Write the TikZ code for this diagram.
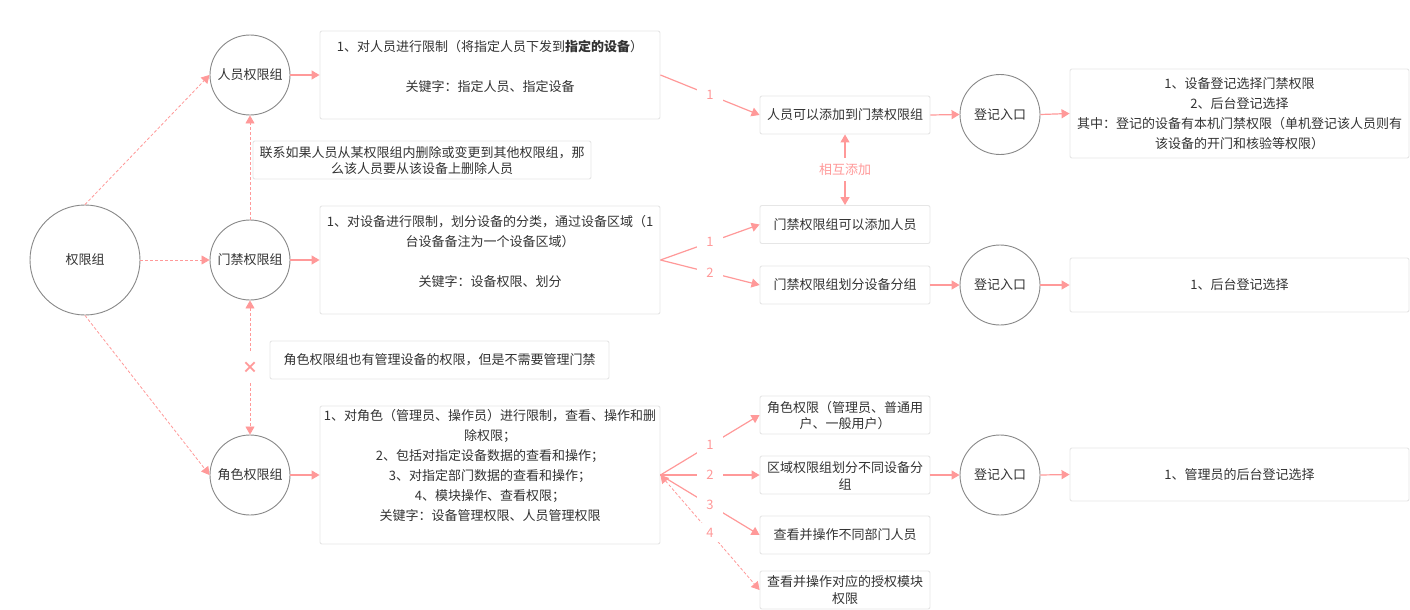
\documentclass[tikz,border=0pt]{standalone}
\usepackage{fontspec}
\setmainfont{Noto Sans CJK SC}
\usetikzlibrary{arrows.meta}
\definecolor{pk}{HTML}{FF9999}
\definecolor{bx}{HTML}{E6E6E6}
\definecolor{cg}{HTML}{888888}
\definecolor{tx}{HTML}{333333}
\tikzset{
  circ/.style={circle, draw=cg, line width=0.9pt, minimum size=#1, inner sep=0pt, text=tx, font=\fontsize{13}{16}\selectfont},
  rbox/.style={draw=bx, line width=0.9pt, rounded corners=2pt, inner sep=0pt, minimum width=#1},
  txt/.style={text=tx, align=center, inner sep=0pt, font=\fontsize{13}{20}\selectfont},
  stxt/.style={text=tx, align=center, inner sep=0pt, font=\fontsize{13}{16.5}\selectfont},
  tipa/.tip={Triangle[length=8pt,width=9pt]},
  arr/.style={draw=pk, line width=1.2pt, -tipa},
  darr/.style={draw=pk, line width=0.8pt, dash pattern=on 3pt off 2pt, -tipa},
  ddarr/.style={draw=pk, line width=0.8pt, dash pattern=on 3pt off 2pt, tipa-tipa},
  sdarr/.style={draw=pk, line width=1.2pt, tipa-tipa},
  lbl/.style={fill=white, text=pk, inner xsep=9pt, inner ysep=5pt, font=\fontsize{13}{15}\selectfont},
}
\begin{document}
\begin{tikzpicture}[x=1pt,y=-1pt]
\fill[white] (0,0) rectangle (1410,610);
\useasboundingbox (0,0) rectangle (1410,610);

% circles
\node[circ=110pt] (qx) at (85,260) {权限组};
\node[circ=80pt] (ry) at (250,75) {人员权限组};
\node[circ=80pt] (mj) at (250,260) {门禁权限组};
\node[circ=80pt] (js) at (250,475) {角色权限组};

% main boxes
\node[rbox=340pt, minimum height=88pt] (b1) at (490,75) {};
\node[txt] (t1) at (490,66) {1、对人员进行限制（将指定人员下发到{\bfseries 指定的设备}）\\ \\关键字：指定人员、指定设备};
\node[rbox=340pt, minimum height=108pt] (b2) at (490,260) {};
\node[txt] (t2) at (490,251) {1、对设备进行限制，划分设备的分类，通过设备区域（1\\台设备备注为一个设备区域）\\ \\关键字：设备权限、划分};
\node[rbox=340pt, minimum height=138pt] (b3) at (490,475) {};
\node[txt] (t3) at (490,465.5) {1、对角色（管理员、操作员）进行限制，查看、操作和删\\除权限；\\2、包括对指定设备数据的查看和操作；\\3、对指定部门数据的查看和操作；\\4、模块操作、查看权限；\\关键字：设备管理权限、人员管理权限};

% notes
\node[rbox=338pt, minimum height=38pt] (n1) at (422,160) {};
\node[stxt] (tn1) at (422,160.5) {联系如果人员从某权限组内删除或变更到其他权限组，那\\么该人员要从该设备上删除人员};
\node[rbox=339pt, minimum height=38pt] (n2) at (439.5,360) {};
\node[stxt] (tn2) at (439.5,360) {角色权限组也有管理设备的权限，但是不需要管理门禁};

% right small boxes
\node[rbox=170pt, minimum height=38pt] (r1) at (845,115) {};
\node[stxt] (tr1) at (845,115) {人员可以添加到门禁权限组};
\node[rbox=170pt, minimum height=38pt] (r2) at (845,224.5) {};
\node[stxt] (tr2) at (845,224.5) {门禁权限组可以添加人员};
\node[rbox=170pt, minimum height=38pt] (r3) at (845,285) {};
\node[stxt] (tr3) at (845,285) {门禁权限组划分设备分组};
\node[rbox=170pt, minimum height=38pt] (r4) at (845,415) {};
\node[stxt] (tr4) at (845,415.5) {角色权限（管理员、普通用\\户、一般用户）};
\node[rbox=170pt, minimum height=38pt] (r5) at (845,475) {};
\node[stxt] (tr5) at (845,476) {区域权限组划分不同设备分\\组};
\node[rbox=170pt, minimum height=38pt] (r6) at (845,535) {};
\node[stxt] (tr6) at (845,535) {查看并操作不同部门人员};
\node[rbox=170pt, minimum height=38pt] (r7) at (845,590) {};
\node[stxt] (tr7) at (845,590) {查看并操作对应的授权模块\\权限};

% entry circles
\node[circ=80pt] (d1) at (1000,114.5) {登记入口};
\node[circ=80pt] (d2) at (1000,285) {登记入口};
\node[circ=80pt] (d3) at (1000,475) {登记入口};

% right text boxes
\node[rbox=339pt, minimum height=89pt] (ra) at (1239.5,113.5) {};
\node[txt] (ta) at (1239.5,114) {1、设备登记选择门禁权限\\2、后台登记选择\\其中：登记的设备有本机门禁权限（单机登记该人员则有\\该设备的开门和核验等权限）};
\node[rbox=339pt, minimum height=54pt] (rb) at (1239.5,285) {};
\node[txt] (tb) at (1239.5,285) {1、后台登记选择};
\node[rbox=339pt, minimum height=53pt] (rc) at (1239.5,474.5) {};
\node[txt] (tc) at (1239.5,475) {1、管理员的后台登记选择};

% dashed connectors from root
\draw[darr] (qx.north) -- (ry.west);
\draw[darr] (qx.east) -- (mj.west);
\draw[darr] (qx.south) -- (js.west);
\draw[darr] (mj.north) -- (ry.south);
\draw[ddarr] (mj.south) -- node[lbl, inner ysep=9pt, font=\fontsize{16}{18}\bfseries] (xl) {×} (js.north);

% solid circle -> box
\draw[arr] (ry.east) -- (b1.west);
\draw[arr] (mj.east) -- (b2.west);
\draw[arr] (js.east) -- (b3.west);

% box -> right boxes
\draw[arr] (b1.east) -- node[lbl] (l11) {1} (r1.west);
\draw[arr] (b2.east) -- node[lbl] (l21) {1} (r2.west);
\draw[arr] (b2.east) -- node[lbl] (l22) {2} (r3.west);
\draw[arr] (b3.east) -- node[lbl] (l31) {1} (r4.west);
\draw[arr] (b3.east) -- node[lbl] (l32) {2} (r5.west);
\draw[arr] (b3.east) -- node[lbl] (l33) {3} (r6.west);
\draw[ddarr] (b3.east) -- node[lbl] (l34) {4} (r7.west);

% mutual
\draw[sdarr] (r1.south) -- node[lbl, inner xsep=3pt, inner ysep=5.5pt] (mu) {相互添加} (r2.north);

% to entries
\draw[arr] (r1.east) -- (d1.west);
\draw[arr] (r3.east) -- (d2.west);
\draw[arr] (r5.east) -- (d3.west);
\draw[arr] (d1.east) -- (ra.west);
\draw[arr] (d2.east) -- (rb.west);
\draw[arr] (d3.east) -- (rc.west);
\end{tikzpicture}
\end{document}
